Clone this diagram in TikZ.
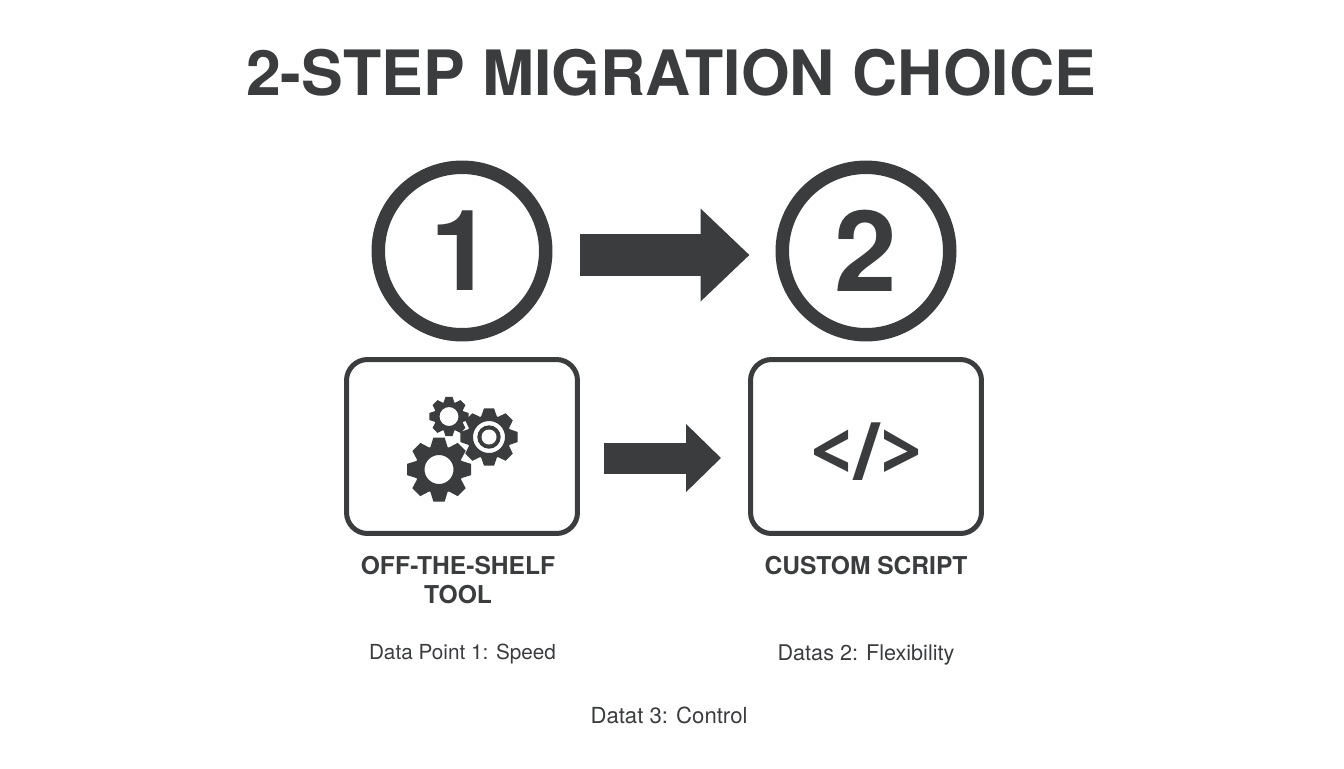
\documentclass[tikz,border=0pt]{standalone}
\usepackage{fontspec}
\setmainfont{TeX Gyre Heros}
\newfontfamily\markfont{Open Sans}
\usetikzlibrary{calc, positioning, arrows.meta}
\definecolor{ink}{HTML}{3A3C3E}
\tikzset{
  roundel/.style={circle, draw=ink, line width=0.27cm, minimum size=3.35cm, inner sep=0pt, text=ink, font=\fontsize{64}{70}\selectfont\bfseries},
  panel/.style={rectangle, draw=ink, line width=0.1cm, rounded corners=0.42cm, minimum width=4.62cm, minimum height=3.48cm, inner sep=0pt},
  heading/.style={text=ink, align=center, font=\fontsize{14}{16.5}\selectfont\bfseries},
  datum/.style={text=ink, font=\fontsize{#1}{14}\selectfont},
  bigarrow/.style={draw=ink, line width=0.84cm, -{Triangle[length=0.98cm, width=1.8cm]}},
  smallarrow/.style={draw=ink, line width=0.62cm, -{Triangle[length=0.7cm, width=1.32cm]}},
  pics/gearwheel/.style n args={3}{code={
    % outer radius, root radius, hole radius
    \fill[ink, even odd rule] (-21:#2)
      \foreach \a in {0,45,...,315} {
        -- ({\a-21}:#2) -- ({\a-10}:#1) -- ({\a+10}:#1) -- ({\a+21}:#2)
      } -- cycle (0,0) circle (#3);
  }}
}
\begin{document}
\begin{tikzpicture}[x=0.02cm, y=-0.02cm]
\useasboundingbox (0,0) rectangle (1344,768);
% nodes %
\node[text=ink, font=\fontsize{35.6}{40}\selectfont\bfseries] (title) at (671,73) {2-STEP MIGRATION CHOICE};
\node[roundel] (one) at (462,251) {1};
\node[roundel] (two) at (866,251) {2};
\node[panel] (toolbox) at (462,446.5) {};
\node[panel] (codebox) at (866,446.5) {};
\node[text=ink, yscale=1.15, transform shape, font=\markfont\fontsize{40}{44}\selectfont\bfseries] (codemark) at (866.5,452) {</>};
\node[heading, below=0.29cm of toolbox, xshift=-0.08cm] (toolname) {OFF-THE-SHELF\\TOOL};
\node[heading, below=0.29cm of codebox] (codename) {CUSTOM SCRIPT};
\node[datum=11.8] (speed) at (462.5,654.5) {Data Point 1: Speed};
\node[datum=12.3] (flex) at (866,654.5) {Datas 2: Flexibility};
\node[datum=12.6] (control) at (669,715) {Datat 3: Control};
% gears %
\pic at (439,469.5) {gearwheel={32.5}{24}{14.5}};
\pic at (449,416.5) {gearwheel={20}{15}{9.5}};
\pic at (489,437) {gearwheel={29}{22}{16}};
\fill[ink] (489,437) circle (11.7);
\fill[white] (489,437) circle (7.5);
% edges %
\draw[bigarrow] ([shift={(28,4)}]one.east) -- ([shift={(-26,4)}]two.west);
\draw[smallarrow] ([shift={(24,11.5)}]toolbox.east) -- ([shift={(-27,11.5)}]codebox.west);
\end{tikzpicture}
\end{document}
